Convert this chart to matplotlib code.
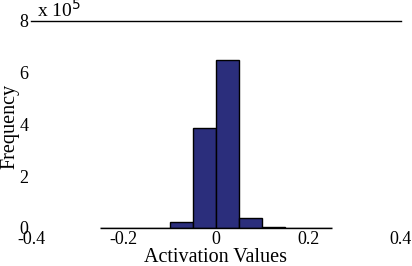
import numpy as np
import matplotlib.pyplot as plt

# histogram bins (edges) and counts
bin_edges = [-0.25, -0.2, -0.15, -0.1, -0.05, 0.0, 0.05, 0.1, 0.15, 0.2, 0.25]
counts = [0, 0, 1000, 22000, 387000, 651000, 39000, 4000, 500, 0]

xticks = [-0.4, -0.2, 0, 0.2, 0.4]
xtick_labels = ["-0.4", "-0.2", "0", "0.2", "0.4"]
yticks = [0, 2e5, 4e5, 6e5, 8e5]
ytick_labels = ["0", "2", "4", "6", "8"]

plt.rcParams['font.family'] = ['Liberation Serif', 'DejaVu Serif']

fig = plt.figure(figsize=(4.12, 2.66), dpi=100)
ax = fig.add_axes([31 / 412, 38 / 266, 370 / 412, 207 / 266])

lefts = np.array(bin_edges[:-1])
widths = np.diff(bin_edges)
ax.bar(lefts, counts, width=widths, align='edge', color='#2b2e7c',
       edgecolor='black', linewidth=1.0)
# baseline under the bins (empty bins only show their edge)
ax.hlines(0, bin_edges[0], bin_edges[-1], color='black', linewidth=1.0,
          clip_on=False, zorder=3)

ax.set_xlim(-0.4, 0.4)
ax.set_ylim(0, 8e5)

for side in ['left', 'right', 'bottom']:
    ax.spines[side].set_visible(False)
ax.spines['top'].set_linewidth(1.0)

ax.set_xticks(xticks)
ax.set_xticklabels(xtick_labels, fontsize=13)
ax.set_yticks(yticks)
ax.set_yticklabels(ytick_labels, fontsize=13)
ax.tick_params(which='major', length=0, pad=2)

# the few stray tick marks that survive in the original
ax.set_xticks([0.2], minor=True)
ax.set_yticks([4e5, 6e5], minor=True)
ax.tick_params(which='minor', direction='in', length=3, width=0.8,
               left=True, right=True, bottom=True)

ax.set_xlabel("Activation Values", fontsize=14.5, labelpad=0)
ax.set_ylabel("Frequency", fontsize=14.5)
ax.yaxis.set_label_coords(-0.032, 0.49)

ax.text(0.015, 1.0, r"x 10$^{5}$", transform=ax.transAxes, fontsize=14,
        ha='left', va='bottom')

fig.savefig("out.png", dpi=100)
